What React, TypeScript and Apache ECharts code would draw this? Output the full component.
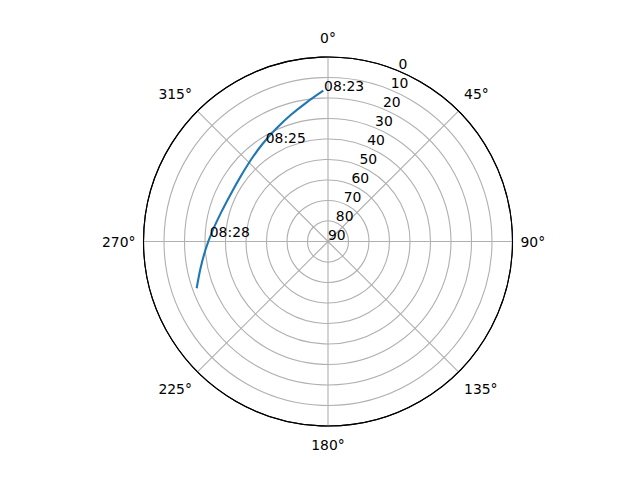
import { useEffect, useRef } from "react";
import * as echarts from "echarts";

// satellite track (elevation in degrees, azimuth in degrees)
const trackElevation = [16.4, 21.3, 25.6, 29.4, 32.6, 35.2, 36.9, 37.2, 36.0, 33.5, 30.2, 26.4, 22.0];
const trackAzimuth = [358.2, 351.3, 343.7, 335.4, 326.4, 316.7, 306.4, 295.8, 285.4, 275.5, 266.4, 258.0, 250.4];

// time annotations along the track
const timeLabels = ["08:23", "08:25", "08:28"];
const timeElevation = [16.4, 33.0, 32.3];
const timeAzimuth = [358.5, 327.8, 272.0];

const FONT = "DejaVu Sans";
const CENTER = [328, 241.5];
const RADIUS = 184.5;

export default function App() {
  const chartRef = useRef(null);

  useEffect(() => {
    const chart = echarts.init(chartRef.current, null, { renderer: "svg" });

    const track = trackElevation.map((el, i) => [el, trackAzimuth[i]]);
    const notes = timeLabels.map((t, i) => ({
      value: [timeElevation[i], timeAzimuth[i]],
      name: t,
    }));

    const radiusBase = {
      type: "value",
      min: 0,
      max: 90,
      interval: 10,
      inverse: true,
      axisLine: { show: false },
      axisTick: { show: false },
    };

    const options = {
      animation: false,
      textStyle: { fontFamily: FONT },
      polar: [
        { center: CENTER, radius: RADIUS },
        { center: CENTER, radius: RADIUS },
      ],
      angleAxis: [
        {
          polarIndex: 0,
          type: "value",
          min: 0,
          max: 360,
          interval: 45,
          startAngle: 90,
          clockwise: true,
          axisLine: { lineStyle: { color: "#000", width: 1.1 } },
          axisTick: { show: false },
          splitLine: { lineStyle: { color: "#b0b0b0", width: 1.1 } },
          axisLabel: {
            formatter: "{value}°",
            margin: 8,
            padding: [4, 0, 4, 0],
            color: "#000",
            fontSize: 13.9,
            fontFamily: FONT,
          },
        },
        {
          // only used to turn the radial tick labels to 22.5°
          polarIndex: 1,
          type: "value",
          min: 0,
          max: 360,
          startAngle: 67.5,
          clockwise: true,
          show: false,
        },
      ],
      radiusAxis: [
        {
          ...radiusBase,
          polarIndex: 0,
          axisLabel: { show: false },
          splitLine: {
            lineStyle: {
              color: ["#000", "#b0b0b0", "#b0b0b0", "#b0b0b0", "#b0b0b0",
                "#b0b0b0", "#b0b0b0", "#b0b0b0", "#b0b0b0", "#b0b0b0"],
              width: 1.1,
            },
          },
        },
        {
          ...radiusBase,
          polarIndex: 1,
          splitLine: { show: false },
          axisLabel: {
            margin: 0,
            align: "left",
            verticalAlign: "bottom",
            color: "#000",
            fontSize: 13.9,
            fontFamily: FONT,
          },
        },
      ],
      series: [
        {
          type: "line",
          coordinateSystem: "polar",
          polarIndex: 0,
          data: track,
          smooth: 0.3,
          showSymbol: false,
          silent: true,
          lineStyle: { color: "#1f77b4", width: 2.1 },
          z: 5,
        },
        {
          type: "scatter",
          coordinateSystem: "polar",
          polarIndex: 0,
          data: notes,
          symbolSize: 0,
          itemStyle: { color: "#000", opacity: 1 },
          silent: true,
          z: 6,
          label: {
            show: true,
            formatter: "{b}",
            position: [0, 0],
            offset: [0, 2],
            align: "left",
            verticalAlign: "bottom",
            color: "#000",
            fontSize: 13.9,
            fontFamily: FONT,
          },
        },
      ],
    };

    chart.setOption(options);

    return () => {
      chart.dispose();
    };
  }, []);

  return (
    <div
      ref={chartRef}
      style={{ position: "fixed", left: 0, top: 0, width: "640px", height: "480px", background: "#fff" }}
    />
  );
}
